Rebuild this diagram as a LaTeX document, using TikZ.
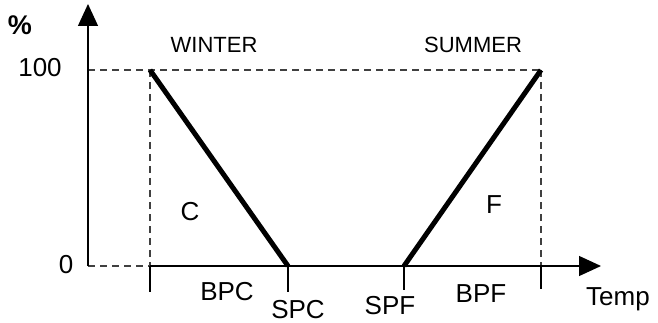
\documentclass[tikz,border=0pt]{standalone}
\usepackage{fontspec}
\setmainfont{Liberation Sans}
\usetikzlibrary{arrows.meta,positioning}

\begin{document}
\begin{tikzpicture}[x=1pt, y=-1pt, >={Triangle[length=22pt,width=20pt]},
    axis/.style={line width=1.3pt},
    guide/.style={line width=1.1pt, dash pattern=on 7pt off 5pt, black!75},
    curve/.style={line width=5pt},
    lbl/.style={font=\fontsize{26}{26}\selectfont, inner sep=0pt, anchor=base},
    season/.style={font=\fontsize{22}{22}\selectfont, inner sep=0pt, anchor=base}]

  \useasboundingbox (0,0) rectangle (658,323);

  % axes
  \coordinate (origin)  at (88,266);
  \coordinate (ytop)    at (88,4);
  \coordinate (xend)    at (601,266);
  \coordinate (y100)    at (88,70);
  % winter side
  \coordinate (bpc100)  at (150,70);
  \coordinate (bpc0)    at (150,266);
  \coordinate (bpctick) at (150,292);
  \coordinate (spc)     at (288,266);
  \coordinate (spctick) at (288,292);
  % summer side
  \coordinate (spf)     at (404,266);
  \coordinate (spftick) at (404,290);
  \coordinate (bpf100)  at (541,70);
  \coordinate (bpf0)    at (541,266);
  \coordinate (bpftick) at (541,289);

  \draw[guide] (y100) -- (bpf100)
               (origin) -- (bpc0)
               (bpc100) -- (bpc0)
               (bpf100) -- (bpf0);

  \draw[axis, ->] (origin) -- (ytop);
  \draw[axis, ->] (bpc0) -- (xend);
  \draw[axis] (bpc0) -- (bpctick)
              (spc) -- (spctick)
              (spf) -- (spftick)
              (bpf0) -- (bpftick);

  \draw[curve] (bpc100) -- (spc);
  \draw[curve] (spf) -- (bpf100);

  \node[lbl, font=\fontsize{27}{27}\selectfont\bfseries] (pct) at (20,35) {\%};
  \node[lbl] (l100)   at (40,77)   {100};
  \node[lbl] (l0)     at (66,273)  {0};
  \node[season] (winter) at (214,53) {WINTER};
  \node[season] (summer) at (473,53) {SUMMER};
  \node[lbl] (zc)     at (190,220) {C};
  \node[lbl] (zf)     at (494,213) {F};
  \node[lbl] (bpc)    at (227,300) {BPC};
  \node[lbl] (spclbl) at (298,318) {SPC};
  \node[lbl] (spflbl) at (390,314) {SPF};
  \node[lbl] (bpf)    at (481,302) {BPF};
  \node[lbl] (temp)   at (618,305) {Temp};
\end{tikzpicture}
\end{document}
